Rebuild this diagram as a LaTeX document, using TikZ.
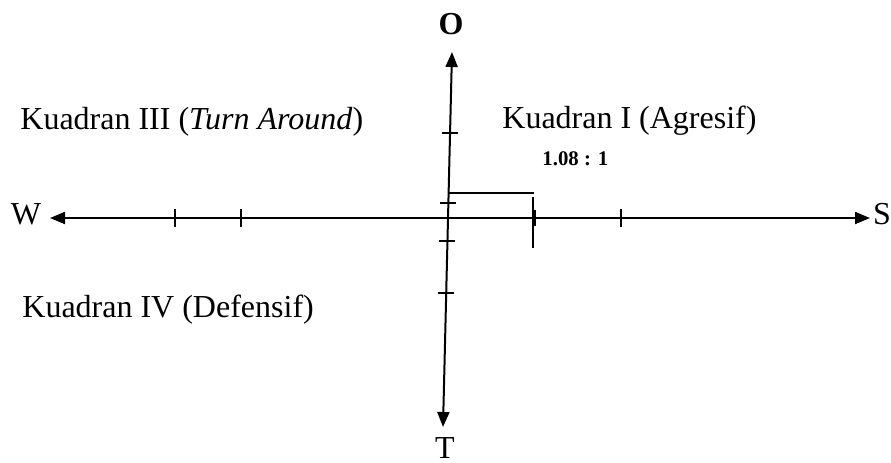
\documentclass[tikz,border=0pt]{standalone}
\usepackage{fontspec}
\setmainfont{Liberation Serif}
\usetikzlibrary{arrows.meta,positioning}
\tikzset{
  axisline/.style={line width=1pt, {Triangle[length=7.5pt,width=6pt]}-{Triangle[length=7.5pt,width=6pt]}},
  tickmark/.style={line width=0.75pt},
  axislabel/.style={anchor=base, inner sep=0pt, font=\fontsize{16}{19}\selectfont},
  quadlabel/.style={anchor=base west, inner sep=0pt, font=\fontsize{16}{19}\selectfont},
}

\begin{document}
\begin{tikzpicture}[x=0.5pt,y=-0.5pt]
\useasboundingbox (0,0) rectangle (891,462);
% ends of the axes
\coordinate (wtip) at (50,218);
\coordinate (stip) at (870,218);
\coordinate (otip) at (452,52);
\coordinate (ttip) at (443,427);

% axes
\draw[axisline] (wtip) -- (stip);
\draw[axisline] (ttip) -- (otip);
\node[axislabel] (W) at (26,224) {W};
\node[axislabel] (S) at (882,224) {S};
\node[axislabel, font=\fontsize{16}{19}\selectfont\bfseries] (O) at (451,34) {O};
\node[axislabel] (T) at (445,458) {T};

% ticks
\foreach \tx in {175,241,621}{
    \draw[tickmark] (\tx,209) -- (\tx,227);
}
\foreach \ty in {133,203,241,293}{
    \draw[tickmark] ({452-9*(\ty-52)/375-8},\ty) -- ++(16,0);
}
\draw[line width=1.5pt] (534,210) -- (534,226);

% position of the point
\draw[tickmark] (449,193) -- (534,193);
\draw[tickmark] (533,197) -- (533,248);
\node[quadlabel, font=\fontsize{10.4}{12}\selectfont\bfseries] (ratio) at (542,165) {1.08 : 1};

% quadrants
\node[quadlabel] (q3) at (20,129) {Kuadran III (\textit{Turn Around})};
\node[quadlabel] (q1) at (502,128) {Kuadran I (Agresif)};
\node[quadlabel] (q4) at (22,317) {Kuadran IV (Defensif)};
\end{tikzpicture}
\end{document}
